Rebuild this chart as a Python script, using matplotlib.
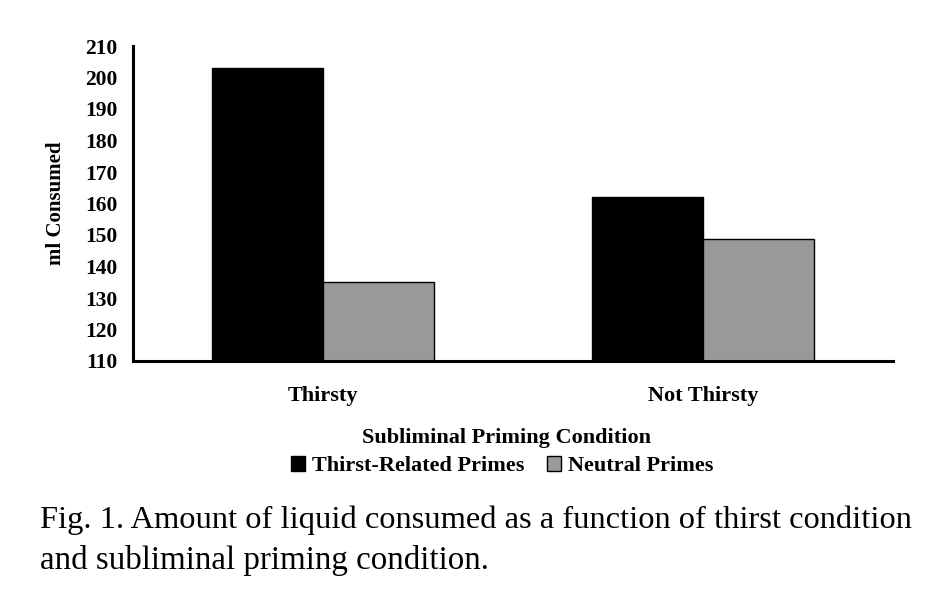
import matplotlib.pyplot as plt
import numpy as np
from matplotlib.patches import Patch

categories = ["Thirsty", "Not Thirsty"]
thirst_related = [203, 162]
neutral = [135, 148.7]
yticks = list(range(110, 211, 10))

plt.rcParams['font.family'] = ['Liberation Serif', 'DejaVu Serif']

fig = plt.figure(figsize=(9.48, 5.96), dpi=100)
ax = fig.add_axes([133 / 948, 1 - 361 / 596, 760 / 948, 315 / 596])

x = np.arange(len(categories))
w = 0.292
ax.bar(x - w / 2, thirst_related, w, color='black', edgecolor='black', linewidth=1)
ax.bar(x + w / 2, neutral, w, color='#999999', edgecolor='black', linewidth=1)

ax.set_ylim(110, 210)
ax.set_xlim(-0.5, 1.5)
ax.set_yticks(yticks)
ax.set_yticklabels([str(t) for t in yticks], fontsize=15.5, fontweight='bold')
ax.set_xticks(x)
ax.set_xticklabels(categories, fontsize=16, fontweight='bold')
ax.tick_params(axis='both', length=0)
ax.tick_params(axis='y', pad=11)
ax.tick_params(axis='x', pad=18)
for s in ['top', 'right']:
    ax.spines[s].set_visible(False)
for s in ['left', 'bottom']:
    ax.spines[s].set_linewidth(2.2)
ax.set_ylabel("ml Consumed", fontsize=15, fontweight='bold', labelpad=14)

fig.text(507 / 948, 1 - 438 / 596, "Subliminal Priming Condition", ha='center', va='center',
         fontsize=16, fontweight='bold')
handles = [Patch(facecolor='black', edgecolor='black', label='Thirst-Related Primes'),
           Patch(facecolor='#999999', edgecolor='black', label='Neutral Primes')]
fig.legend(handles=handles, loc='center', bbox_to_anchor=(502 / 948, 1 - 466 / 596), ncol=2,
           frameon=False, prop={'weight': 'bold', 'size': 16}, handlelength=0.65,
           handleheight=0.65, handletextpad=0.3, columnspacing=1.0)

fig.text(40 / 948, 1 - 520 / 596,
         "Fig. 1. Amount of liquid consumed as a function of thirst condition",
         ha='left', va='center', fontsize=23.4)
fig.text(40 / 948, 1 - 560 / 596, "and subliminal priming condition.",
         ha='left', va='center', fontsize=23.8)

fig.savefig("out.png", dpi=100)
